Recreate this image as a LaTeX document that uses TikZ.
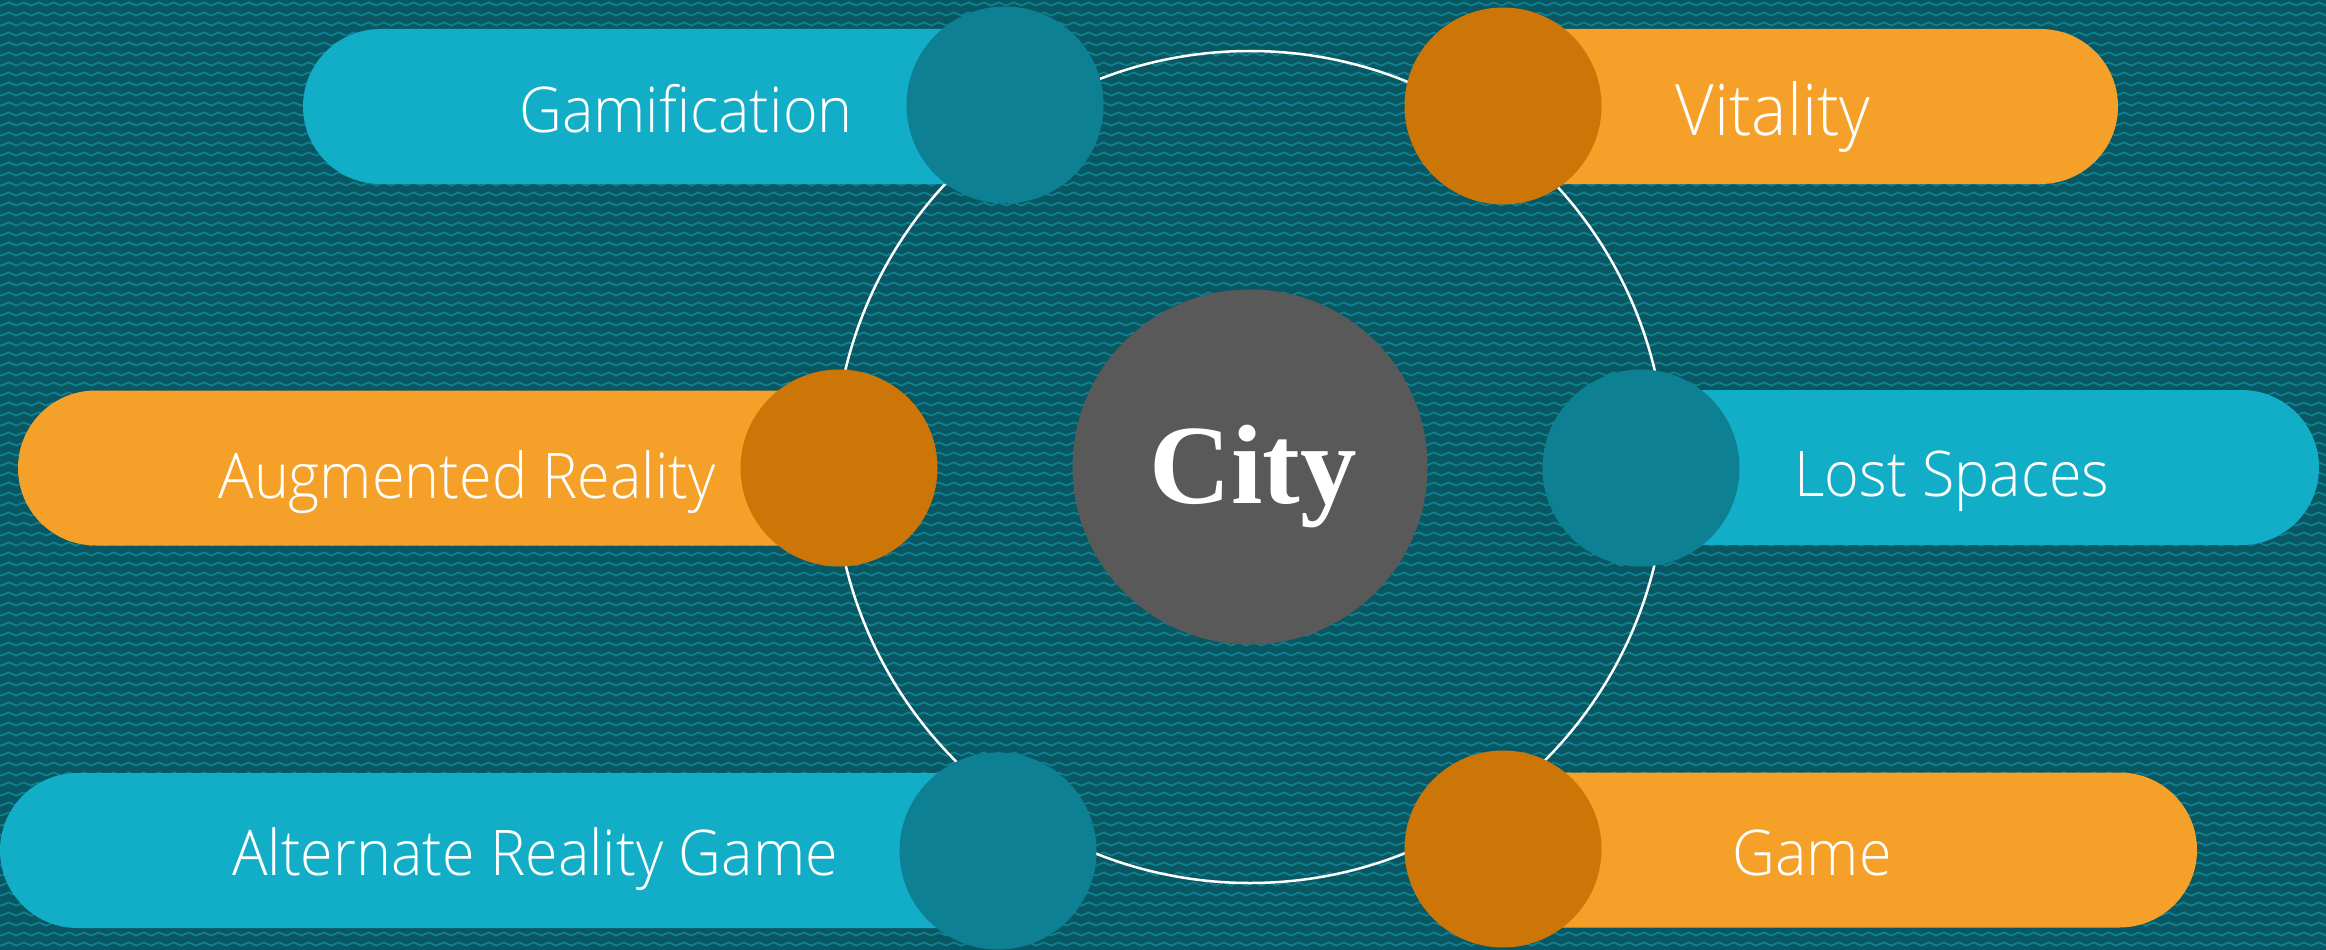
\documentclass[tikz,border=0pt]{standalone}
\usepackage{fontspec}
\usetikzlibrary{shapes.misc,decorations.pathmorphing}
\newfontfamily\cityfont{Liberation Serif}
\newfontfamily\lblfont[FakeStretch=0.94]{Open Sans Light}
\definecolor{bgdark}{HTML}{0A5764}
\definecolor{bgline}{HTML}{0E8595}
\definecolor{cyanpill}{HTML}{12AEC8}
\definecolor{tealcirc}{HTML}{0E8093}
\definecolor{orangepill}{HTML}{F5A028}
\definecolor{orangecirc}{HTML}{CC7607}
\definecolor{citygrey}{HTML}{595959}
\tikzset{
  pillL/.style={rounded rectangle, rounded rectangle right arc=none, inner sep=0pt, outer sep=0pt, minimum height=155pt, anchor=east},
  pillR/.style={rounded rectangle, rounded rectangle left arc=none, inner sep=0pt, outer sep=0pt, minimum height=155pt, anchor=west},
  dot/.style={circle, inner sep=0pt, outer sep=0pt, minimum size=197pt},
  lbl/.style={text=white, anchor=base, inner sep=0pt, font=\lblfont\fontsize{63}{63}\selectfont},
  ring/.style={draw=white, line width=2.5pt},
  zig/.style={draw=bgline, line width=1.6pt, decorate, decoration={zigzag, segment length=15pt, amplitude=1.6pt}}
}
\begin{document}
\begin{tikzpicture}[x=1pt,y=-1pt]
\useasboundingbox (0,0) rectangle (2326,950);
\begin{scope}
\clip (0,0) rectangle (2326,950);
\fill[bgdark] (0,0) rectangle (2326,950);
\foreach \yy in {4,14,...,954} {\path[zig] (-10,\yy) -- (2340,\yy);}
\end{scope}
% ring
\node[circle, ring, minimum size=832pt, inner sep=0pt] (ringc) at (1250,467) {};
% city
\node[circle, fill=citygrey, minimum size=355pt, inner sep=0pt] (city) at (1250,467) {};
\node[text=white, anchor=base, inner sep=0pt, font=\cityfont\bfseries\fontsize{113}{113}\selectfont] (citytxt) at (1253,503) {City};
% Gamification
\node[pillL, fill=cyanpill, minimum width=702pt] (p1) at (1005,106.5) {};
\node[dot, fill=tealcirc] (c1) at (1005,105) {};
\node[lbl] (t1) at (686,132) {Gamification};
% Vitality
\node[pillR, fill=orangepill, minimum width=615pt] (p2) at (1503,106.5) {};
\node[dot, fill=orangecirc] (c2) at (1503,106) {};
\node[lbl, font=\lblfont\fontsize{71}{71}\selectfont] (t2) at (1773,135) {Vitality};
% Augmented Reality
\node[pillL, fill=orangepill, minimum width=820pt] (p3) at (838,468) {};
\node[dot, fill=orangecirc] (c3) at (839,468) {};
\node[lbl] (t3) at (467,498) {Augmented Reality};
% Lost Spaces
\node[pillR, fill=cyanpill, minimum width=678pt] (p4) at (1641,467.5) {};
\node[dot, fill=tealcirc] (c4) at (1641,468) {};
\node[lbl] (t4) at (1952,496.5) {Lost Spaces};
% Alternate Reality Game
\node[pillL, fill=cyanpill, minimum width=998pt] (p5) at (998,850.5) {};
\node[dot, fill=tealcirc] (c5) at (998,851) {};
\node[lbl] (t5) at (535,875) {Alternate Reality Game};
% Game
\node[pillR, fill=orangepill, minimum width=694pt] (p6) at (1503,850) {};
\node[dot, fill=orangecirc] (c6) at (1503,849) {};
\node[lbl] (t6) at (1812,875) {Game};
\end{tikzpicture}
\end{document}
